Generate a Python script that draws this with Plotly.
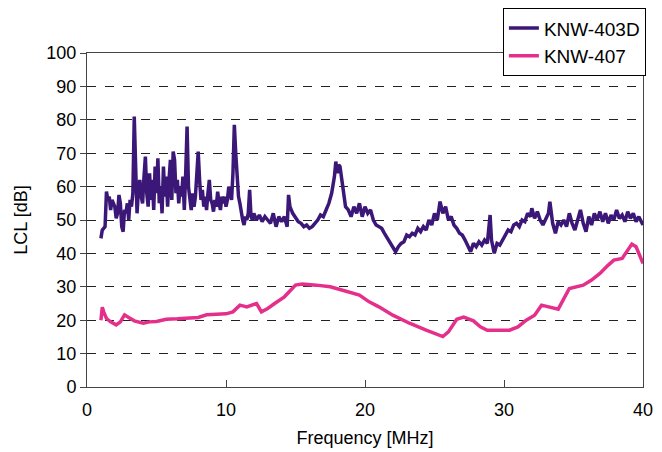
import plotly.graph_objects as go

# KNW-403D (purple)
f403 = [1.0, 1.1, 1.2, 1.3, 1.4, 1.5, 1.6, 1.7, 1.8, 1.9, 2.0, 2.1, 2.2, 2.3, 2.4, 2.5, 2.6, 2.7, 2.8, 2.9,
        3.0, 3.1, 3.2, 3.3, 3.4, 3.5, 3.6, 3.7, 3.8, 3.9, 4.0, 4.1, 4.2, 4.3, 4.4, 4.5, 4.6, 4.7, 4.8, 4.9,
        5.0, 5.1, 5.2, 5.3, 5.4, 5.5, 5.6, 5.7, 5.8, 5.9, 6.0, 6.1, 6.2, 6.3, 6.4, 6.5, 6.6, 6.7, 6.8, 6.9,
        7.0, 7.1, 7.2, 7.3, 7.4, 7.5, 7.6, 7.7, 7.8, 7.9, 8.0, 8.1, 8.2, 8.3, 8.4, 8.5, 8.6, 8.7, 8.8, 8.9,
        9.0, 9.1, 9.2, 9.3, 9.4, 9.5, 9.6, 9.7, 9.8, 9.9, 10.0, 10.1, 10.2, 10.3, 10.4, 10.5, 10.6, 10.7, 10.8, 10.9,
        11.0, 11.1, 11.2, 11.3, 11.4, 11.5, 11.6, 11.7, 11.8, 11.9, 12.0, 12.2, 12.4, 12.6, 12.8, 13.0, 13.2, 13.4, 13.6, 13.8,
        14.0, 14.2, 14.4, 14.5, 14.6, 14.8, 15.0, 15.2, 15.4, 15.6, 15.8, 16.0, 16.2, 16.4, 16.6, 16.8, 17.0, 17.2, 17.4, 17.6,
        17.8, 17.9, 18.0, 18.1, 18.2, 18.4, 18.6, 18.8, 19.0, 19.2, 19.4, 19.6, 19.8, 20.0, 20.2, 20.4, 20.6, 20.8, 21.0, 21.2,
        21.4, 21.6, 21.8, 22.0, 22.2, 22.4, 22.6, 22.8, 23.0, 23.2, 23.4, 23.6, 23.8, 24.0, 24.2, 24.4, 24.6, 24.8, 25.0, 25.2,
        25.4, 25.6, 25.8, 26.0, 26.2, 26.4, 26.6, 26.8, 27.0, 27.2, 27.4, 27.6, 27.8, 28.0, 28.2, 28.4, 28.6, 28.8, 29.0, 29.1,
        29.3, 29.5, 29.7, 29.9, 30.1, 30.3, 30.5, 30.7, 30.9, 31.1, 31.3, 31.5, 31.7, 31.9, 32.0, 32.2, 32.4, 32.6, 32.8, 33.0,
        33.2, 33.3, 33.5, 33.7, 33.9, 34.1, 34.3, 34.5, 34.7, 34.9, 35.1, 35.3, 35.5, 35.7, 35.9, 36.1, 36.3, 36.5, 36.7, 36.9,
        37.1, 37.3, 37.5, 37.7, 37.9, 38.1, 38.3, 38.5, 38.7, 38.9, 39.1, 39.3, 39.5, 39.7, 39.9, 40.0]
lcl403 = [44.5, 47, 47.5, 48, 58.5, 56, 57, 53, 56, 55, 54, 50.5, 52, 57.5, 55, 48, 46.5, 53, 52, 55,
          50, 56, 54, 58, 81, 66, 52, 59, 62, 57, 55, 63, 69, 58, 54, 64, 56, 62, 53, 66,
          58, 68.5, 55, 60, 52, 66, 57, 63, 54, 62, 68, 56, 70.5, 68, 58, 62, 55, 60, 57, 63,
          53, 64, 78, 60, 56, 53, 58, 54, 57, 64, 70.5, 62, 56, 59, 54, 57, 53, 58, 62, 56,
          55, 52.5, 56, 54, 58.5, 55, 53, 57, 55, 57, 54, 56, 60, 58, 56, 64, 78.5, 70, 62, 57,
          55, 52, 50, 48.5, 51, 50, 52, 59, 51, 50, 52, 50, 51.5, 49.5, 51, 50, 49, 52, 48, 51,
          49.5, 51, 48, 57.5, 54, 52, 50.5, 49.5, 49, 48, 48.5, 47.5, 48, 49, 50, 51.5, 51, 53, 55, 58,
          63, 67.5, 64, 66.5, 66, 60, 54, 53, 51, 54, 52, 55, 51, 54, 52, 53, 50, 48.5, 48, 47.5,
          46, 44.5, 43, 42, 40.5, 42, 43, 43.5, 45.5, 45, 46, 45.5, 47.5, 46.5, 48, 47, 50, 48.5, 52, 50,
          55.5, 52, 54, 50, 51, 48.5, 47.5, 46, 45.5, 44, 42.5, 40.5, 43, 42, 43.5, 42.5, 44, 43, 51.5, 44,
          40, 43, 42.5, 44, 45.5, 47, 46.5, 48.5, 49, 48, 50, 49.5, 52, 51, 53.5, 50.5, 52.5, 50, 48.5, 50,
          52, 55.5, 49, 46, 49.5, 48.5, 50, 48, 52, 49, 47, 50, 53, 49, 46.5, 51, 48.5, 52, 50, 52.5,
          49.5, 52, 49, 51.5, 50, 53, 50.5, 51.5, 49.5, 52.5, 50.5, 52, 49.5, 51, 49.5, 48.5]

# KNW-407 (pink)
f407 = [1.0, 1.05, 1.1, 1.2, 1.4, 1.7, 2.1, 2.4, 2.7, 3.0, 3.4, 4.05, 4.5, 5.0, 5.7, 6.5, 7.5, 8.0, 8.6, 9.5,
        10.0, 10.5, 11.0, 11.5, 12.2, 12.55, 13.0, 13.5, 14.2, 15.0, 15.5, 16.5, 17.5, 18.2, 19.2, 19.6, 20.3, 21.0, 22.0, 23.2,
        24.4, 25.0, 25.6, 26.0, 26.6, 27.1, 27.8, 28.3, 28.8, 30.4, 31.0, 31.6, 32.2, 32.7, 33.2, 33.9, 34.7, 35.7, 36.3, 36.9,
        37.5, 37.9, 38.5, 39.0, 39.2, 39.5, 40.0]
lcl407 = [20, 22.5, 23.9, 22.5, 20.5, 19.5, 18.6, 19.5, 21.6, 20.8, 19.8, 19.1, 19.5, 19.6, 20.3, 20.4, 20.5, 20.8, 21.6, 21.7,
          21.9, 22.5, 24.5, 24, 25, 22.5, 23.5, 25, 27, 30.5, 30.8, 30.5, 30, 29.2, 28, 27.5, 25.5, 24, 21.5, 19.1,
          17, 16, 15.1, 16.5, 20.3, 20.9, 19.8, 18, 17, 17, 18, 20, 21.5, 24.5, 24, 23.3, 29.5, 30.5, 32, 34,
          36.5, 38, 38.5, 41.5, 42.8, 42, 37]

x_ticks = [0, 10, 20, 30, 40]
y_ticks = [0, 10, 20, 30, 40, 50, 60, 70, 80, 90, 100]

font = "Liberation Sans, Arial, sans-serif"

fig = go.Figure()
fig.add_trace(go.Scatter(x=f403, y=lcl403, mode="lines", name="KNW-403D",
                         line=dict(color="#3b1778", width=3.5)))
fig.add_trace(go.Scatter(x=f407, y=lcl407, mode="lines", name="KNW-407",
                         line=dict(color="#e5308b", width=3.5)))

fig.update_layout(
    width=662, height=452,
    margin=dict(l=79, r=27, t=45, b=73, autoexpand=False),
    paper_bgcolor="white", plot_bgcolor="white",
    font=dict(family=font, size=18, color="black"),
    legend=dict(x=0.748, y=1.134, xanchor="left", yanchor="top",
                bgcolor="white", bordercolor="black", borderwidth=1,
                font=dict(size=19), tracegroupgap=0),
    showlegend=True,
)
fig.update_xaxes(range=[0, 40], tickvals=x_ticks, showgrid=False,
                 showline=True, linecolor="#444", linewidth=1, mirror=True,
                 ticks="inside", ticklen=7, tickcolor="#444", ticklabelstandoff=6,
                 zeroline=False,
                 title=dict(text="Frequency [MHz]", font=dict(size=18), standoff=12))
fig.update_yaxes(range=[0, 100], tickvals=y_ticks, showgrid=True, gridcolor="#222",
                 griddash="dash", gridwidth=1,
                 showline=True, linecolor="#444", linewidth=1, mirror=True,
                 ticks="outside", ticklen=6, tickcolor="#444",
                 zeroline=False,
                 title=dict(text="LCL [dB]", font=dict(size=18), standoff=14))

fig.write_html("out.html")
